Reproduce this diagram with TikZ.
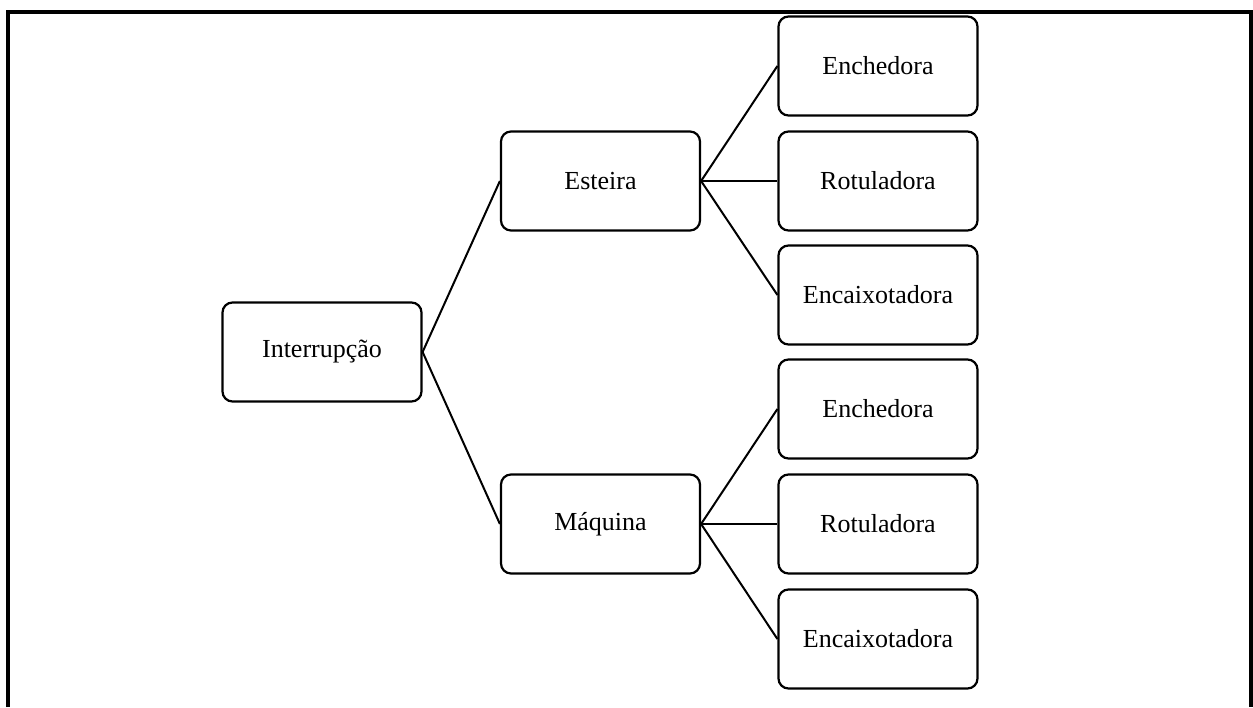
\documentclass[tikz,border=0pt]{standalone}
\usepackage{fontspec}
\setmainfont{Liberation Serif}
\begin{document}
\begin{tikzpicture}[x=1pt,y=-1pt,
  box/.style={draw, line width=2.2pt, rounded corners=10pt, minimum width=199pt, minimum height=99pt, font=\fontsize{26}{30}\selectfont, inner sep=0pt},
  conn/.style={line width=2pt}]
\useasboundingbox (0,0) rectangle (1253,707);
\draw[line width=4pt] (8,707) -- (8,12) -- (1251,12) -- (1251,707);
\node[box] (int) at (322,352) {Interrupção};
\node[box] (est) at (600.5,181) {Esteira};
\node[box] (maq) at (600.5,524) {Máquina};
\node[box] (e1) at (878,66) {Enchedora};
\node[box] (r1) at (878,181) {Rotuladora};
\node[box] (c1) at (878,295) {Encaixotadora};
\node[box] (e2) at (878,409) {Enchedora};
\node[box] (r2) at (878,524) {Rotuladora};
\node[box] (c2) at (878,639) {Encaixotadora};
\draw[conn] (int.east) -- (est.west);
\draw[conn] (int.east) -- (maq.west);
\foreach \c in {e1,r1,c1} \draw[conn] (est.east) -- (\c.west);
\foreach \c in {e2,r2,c2} \draw[conn] (maq.east) -- (\c.west);
\end{tikzpicture}
\end{document}
